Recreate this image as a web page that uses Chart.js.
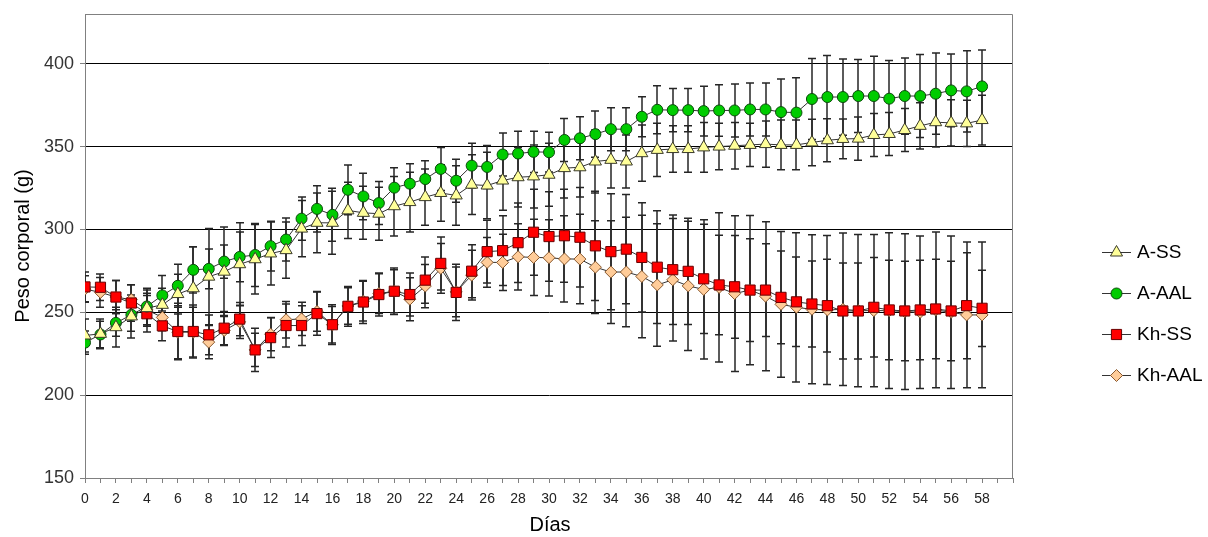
<!DOCTYPE html>
<html>
<head>
<meta charset="utf-8">
<script src="https://cdn.jsdelivr.net/npm/chart.js@4.4.1/dist/chart.umd.min.js"></script>
<style>
  html, body { margin: 0; padding: 0; background: #ffffff; }
  #wrap { position: relative; width: 1208px; height: 537px; }
</style>
</head>
<body>
<div id="wrap"><canvas id="c"></canvas></div>
<script>
// ---- Data ----
const days = [0,1,2,3,4,5,6,7,8,9,10,11,12,13,14,15,16,17,18,19,20,21,22,23,24,25,26,27,28,29,30,31,32,33,34,35,36,37,38,39,40,41,42,43,44,45,46,47,48,49,50,51,52,53,54,55,56,57,58];
const xTickLabels = [0,2,4,6,8,10,12,14,16,18,20,22,24,26,28,30,32,34,36,38,40,42,44,46,48,50,52,54,56,58];
const yTickValues = [150,200,250,300,350,400];
const seriesNames = ["A-SS", "A-AAL", "Kh-SS", "Kh-AAL"];

const A_SS = [236,237,241,247.5,252.5,254.5,261,264.5,271.5,274.5,279,282,285.5,287.5,300.5,304,304,311.5,310,309.5,314,316.5,319.5,322,320.5,327,326.5,329.5,331.5,332,333,337,337.5,341,342,341,346,348,348.5,348.5,349.5,350,350.5,351,351.5,351,351,352.5,353.8,354.6,354.8,357,357.6,360,362.5,364.7,364.3,364,366];
const A_AAL = [231.7,236.6,243.6,248.5,253.5,260.2,266,275.6,276.2,280.6,283.4,284.6,289.9,293.9,306.5,312.4,308.8,323.9,319.9,315.9,325.2,327.6,330.4,336.5,329.4,338.5,337.7,345.2,345.8,346.8,346.6,354,355,357.5,360.5,360.5,368,372.2,372,372,371.4,371.8,371.8,372.4,372.4,370.8,370.5,378.7,379.9,379.9,380.5,380.5,378.9,380.5,380.5,381.9,383.9,383.3,386.3];
const Kh_SS = [265.3,265.1,259.2,255.6,249.1,241.8,238.4,238.4,236.4,240.4,245.9,227.3,234.7,242,242,249.2,242.5,253.6,256.2,260.7,262.7,260.7,269.4,279.5,262,274.8,286.6,287.2,292,298.3,295.7,296.2,295.3,290.1,286.6,288.1,283.1,277.2,275.7,274.7,270.2,266.5,265.4,263.4,263.4,259,256.3,255,254,250.8,250.8,253,251.4,250.8,251.4,252,250.8,254,252.4];
const Kh_AAL = [264,262,259.2,257.6,251.5,246.9,238,238,232,239,244.2,227.3,236.8,245.5,246,250.5,242.5,253.8,256.7,261.3,262.7,257.9,265.8,276.5,262.3,272.4,280.1,280.1,283.5,283.1,282.9,282.2,282.1,277.2,274.3,274.3,271.6,266.5,269.6,265.9,263.8,265,261.3,263.4,259.7,254.8,253,251.8,251.4,251.8,251,251,251,250.4,250,251.4,250,248.4,248.4];

// error bar half-lengths (SD)
const A_SS_err = [10,9,12,13,11,10,12,25,29,27,25,21,19,17,17,18,19,17,16,16,18,18,17,17,18,18,20,18,18,19,19,18,18,19,17,16,17,16,14,14,15,14,14,13,14,15,15,14,13,12,13,13,13,13,14,15,14,14,15];
const A_AAL_err = [7,8,8,10,11,12,13,14,12,10,15,19,15,13,13,14,16,15,14,13,12,12,11,13,13,13.5,13,13,13.5,12.5,12,13,13,14,13,13,12,14.5,13,13,15,15.5,16,16,16,20,21,24.5,25,23,22,24,23,23,25,24.5,22,24.5,22];
const Kh_SS_err = [9,8,10,11,11,9,17,16,12,10,10,13,12,13,12,13,12,12,13,13,14,13,14,16,17,16,19,21,24,26,27,28,30,33,35,33,33,34,33,32,33,30,31,31,28,28,27,26,28,29,29,30,30,30,30,30,30,32,23];
const Kh_AAL_err = [8,9,10,9,10,8,16,15,10,9,10,10,10,11,10,12,11,11,12,12,13,13,13,15,15,15,15,17,20,23,23,26,27,28,31,33,37,37,37,39,42,45,47,45,45,44,45,45,45,46,46,46,47,47,46,47,46,44,44];

const FONT = 'Arial, "Liberation Sans", sans-serif';

function pts(vals) { return days.map((d, i) => ({ x: d, y: vals[i] })); }

const styles = [
  { pointStyle: 'triangle', radius: 7,   fill: '#FFFF99', border: '#3a3a2a' },
  { pointStyle: 'circle',   radius: 5.5, fill: '#00CC00', border: '#0a4a0a' },
  { pointStyle: 'rect',     radius: 7.2, fill: '#FF0000', border: '#6a0000' },
  { pointStyle: 'rectRot',  radius: 6,   fill: '#FFCC99', border: '#8a5a30' }
];
const values = [A_SS, A_AAL, Kh_SS, Kh_AAL];
const errors = [A_SS_err, A_AAL_err, Kh_SS_err, Kh_AAL_err];

const datasets = seriesNames.map((name, k) => ({
  label: name,
  data: pts(values[k]),
  errors: errors[k],
  borderColor: '#333333',
  borderWidth: 1,
  pointStyle: styles[k].pointStyle,
  pointRadius: styles[k].radius,
  pointHoverRadius: styles[k].radius,
  pointBackgroundColor: styles[k].fill,
  pointBorderColor: styles[k].border,
  pointBorderWidth: 1,
  tension: 0,
  fill: false
}));

// error bars drawn beneath lines and markers
const errorBars = {
  id: 'errorBars',
  beforeDatasetsDraw(chart) {
    const ctx = chart.ctx, xs = chart.scales.x, ys = chart.scales.y;
    ctx.save();
    ctx.beginPath();
    ctx.rect(chart.chartArea.left, chart.chartArea.top, chart.chartArea.right - chart.chartArea.left, chart.chartArea.bottom - chart.chartArea.top);
    ctx.clip();
    ctx.strokeStyle = '#262626';
    ctx.lineWidth = 1.5;
    chart.data.datasets.forEach(ds => {
      ds.data.forEach((p, i) => {
        const e = ds.errors[i];
        const x = Math.round(xs.getPixelForValue(p.x));
        const yt = ys.getPixelForValue(p.y + e);
        const yb = ys.getPixelForValue(p.y - e);
        ctx.beginPath();
        ctx.moveTo(x, yt); ctx.lineTo(x, yb);
        ctx.moveTo(x - 4, yt); ctx.lineTo(x + 4, yt);
        ctx.moveTo(x - 4, yb); ctx.lineTo(x + 4, yb);
        ctx.stroke();
      });
    });
    ctx.restore();
  }
};

// plot-area frame, axis titles and legend
const decorations = {
  id: 'decorations',
  beforeDraw(chart) {
    const ctx = chart.ctx;
    ctx.save();
    ctx.fillStyle = '#ffffff';
    ctx.fillRect(0, 0, chart.width, chart.height);
    ctx.restore();
  },
  afterDraw(chart) {
    const ctx = chart.ctx, a = chart.chartArea;
    ctx.save();
    ctx.strokeStyle = '#808080';
    ctx.lineWidth = 1;
    ctx.beginPath();
    ctx.moveTo(a.left + 0.5, a.top + 0.5);
    ctx.lineTo(a.right - 0.5, a.top + 0.5);
    ctx.lineTo(a.right - 0.5, a.bottom);
    ctx.stroke();

    // axis titles
    ctx.fillStyle = '#000000';
    ctx.font = '20px ' + FONT;
    ctx.textAlign = 'center';
    ctx.textBaseline = 'middle';
    ctx.fillText('Días', 550, 525);
    ctx.save();
    ctx.translate(23, 246);
    ctx.rotate(-Math.PI / 2);
    ctx.fillText('Peso corporal (g)', 0, 0);
    ctx.restore();

    // legend
    const rows = [252, 293, 334, 375];
    chart.data.datasets.forEach((ds, k) => {
      const y = rows[k];
      ctx.strokeStyle = '#333333';
      ctx.lineWidth = 1;
      ctx.beginPath();
      ctx.moveTo(1102, y + 0.5); ctx.lineTo(1131, y + 0.5);
      ctx.stroke();
      ctx.fillStyle = ds.pointBackgroundColor;
      ctx.strokeStyle = ds.pointBorderColor;
      ctx.lineWidth = 1;
      Chart.helpers.drawPoint(ctx, { pointStyle: ds.pointStyle, radius: ds.pointRadius, borderWidth: 1, rotation: 0 }, 1116.5, y + 0.5);
      ctx.fillStyle = '#000000';
      ctx.font = '19px ' + FONT;
      ctx.textAlign = 'left';
      ctx.textBaseline = 'middle';
      ctx.fillText(ds.label, 1137, y + 1);
    });
    ctx.restore();
  }
};

new Chart(document.getElementById('c'), {
  type: 'line',
  data: { datasets },
  plugins: [errorBars, decorations],
  options: {
    responsive: true,
    maintainAspectRatio: false,
    animation: false,
    events: [],
    layout: { padding: { left: 0, right: 195, top: 14, bottom: 0 } },
    plugins: { legend: { display: false }, tooltip: { enabled: false } },
    scales: {
      x: {
        type: 'linear',
        min: 0, max: 60,
        afterFit(scale) { scale.height = 59; scale.paddingLeft = 0; scale.paddingRight = 0; },
        afterBuildTicks(scale) { scale.ticks = days.concat([59, 60]).map(v => ({ value: v })); },
        ticks: {
          autoSkip: false, maxRotation: 0, minRotation: 0, padding: 8,
          color: '#222222', font: { family: FONT, size: 14 },
          callback: v => xTickLabels.includes(v) ? String(v) : ''
        },
        grid: { drawOnChartArea: false, drawTicks: true, tickLength: 5, tickColor: '#808080' },
        border: { color: '#808080', width: 1 }
      },
      y: {
        min: 150, max: 430,
        afterFit(scale) { scale.width = 85; scale.paddingTop = 0; scale.paddingBottom = 0; },
        afterBuildTicks(scale) { scale.ticks = yTickValues.map(v => ({ value: v })); },
        ticks: { padding: 6, color: '#333333', font: { family: FONT, size: 18 } },
        grid: {
          color: c => (c.tick && c.tick.value === 150) ? 'rgba(0,0,0,0)' : '#000000',
          lineWidth: 1, tickLength: 5, tickColor: '#808080'
        },
        border: { color: '#808080', width: 1 }
      }
    }
  }
});
</script>
</body>
</html>
